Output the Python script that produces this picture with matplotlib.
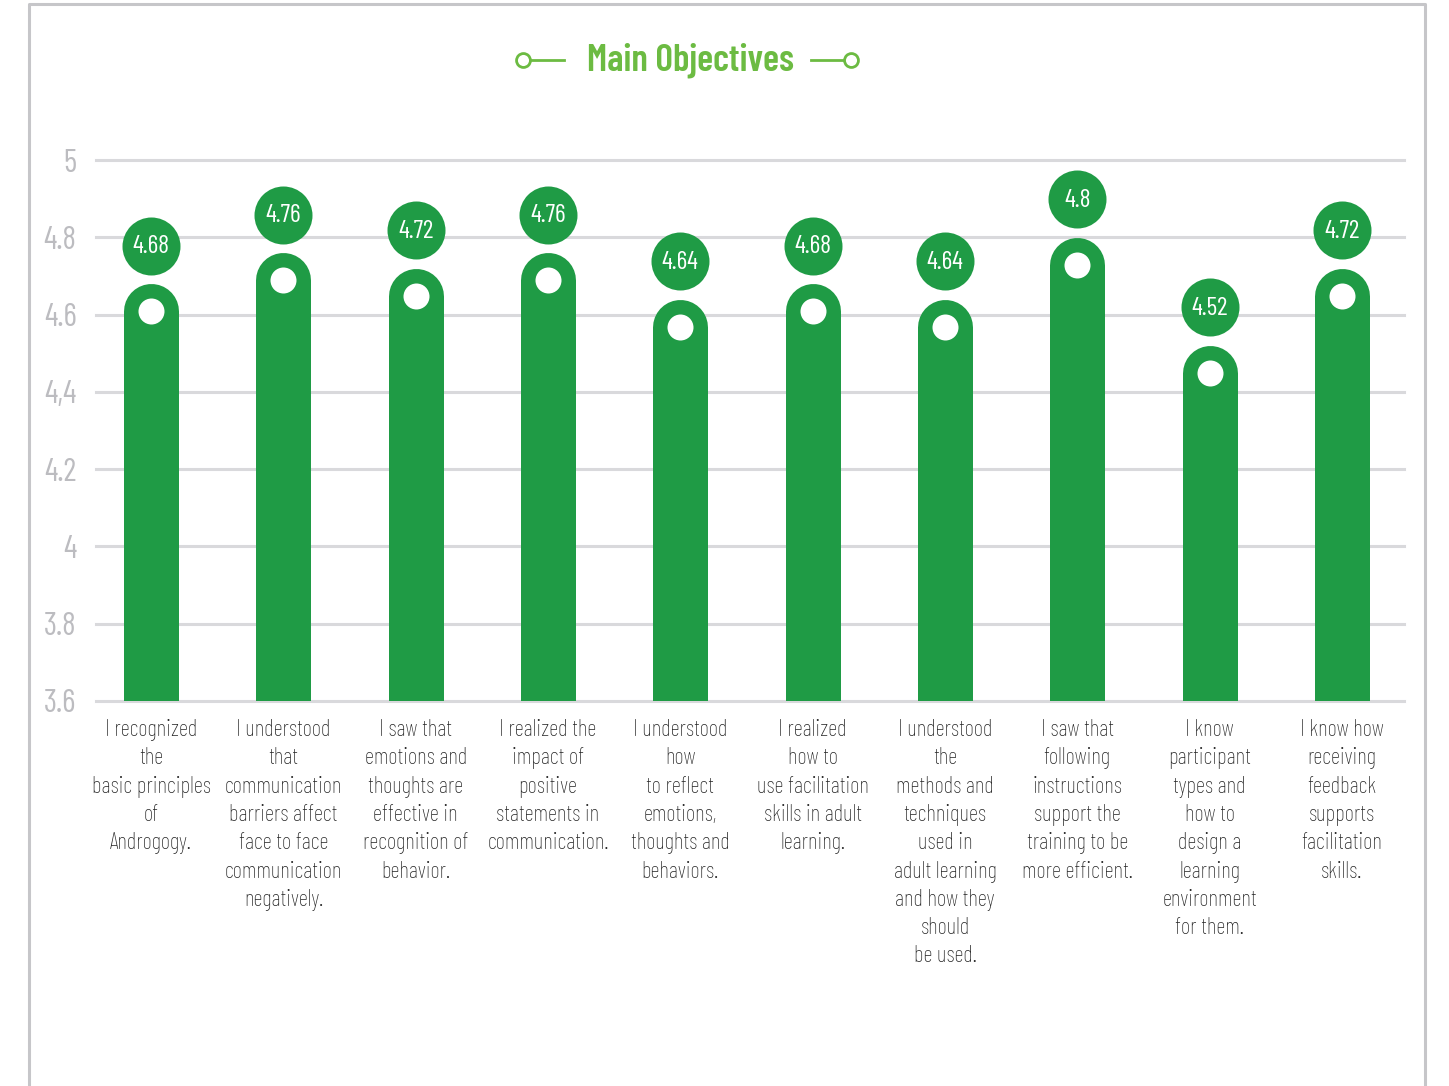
import matplotlib
matplotlib.use('Agg')
import matplotlib.pyplot as plt
import matplotlib.transforms as mtransforms
from matplotlib.lines import Line2D
from matplotlib import font_manager
import numpy as np

# survey items and mean scores
objectives = [
    'I recognized\nthe\nbasic principles\nof\nAndrogogy.',
    'I understood\nthat\ncommunication\nbarriers affect\nface to face\ncommunication\nnegatively.',
    'I saw that\nemotions and\nthoughts are\neffective in\nrecognition of\nbehavior.',
    'I realized the\nimpact of\npositive\nstatements in\ncommunication.',
    'I understood\nhow\nto reflect\nemotions,\nthoughts and\nbehaviors.',
    'I realized\nhow to\nuse facilitation\nskills in adult\nlearning.',
    'I understood\nthe\nmethods and\ntechniques\nused in\nadult learning\nand how they\nshould\nbe used.',
    'I saw that\nfollowing\ninstructions\nsupport the\ntraining to be\nmore efficient.',
    'I know\nparticipant\ntypes and\nhow to\ndesign a\nlearning\nenvironment\nfor them.',
    'I know how\nreceiving\nfeedback\nsupports\nfacilitation\nskills.',
]
scores = [4.68, 4.76, 4.72, 4.76, 4.64, 4.68, 4.64, 4.8, 4.52, 4.72]
yticks = [3.6, 3.8, 4.0, 4.2, 4.4, 4.6, 4.8, 5.0]
ytick_labels = ['3.6', '3.8', '4', '4.2', '4,4', '4.6', '4.8', '5']

GREEN = '#1f9b45'
TITLE_GREEN = '#6cbb42'
GRID = '#d9d9dc'

# pick the first narrow family that is installed
installed = {f.name for f in font_manager.fontManager.ttflist}
narrow = ['Barlow Condensed', 'Barlow Semi Condensed', 'Roboto Condensed',
          'IBM Plex Sans Condensed', 'Open Sans']
FONT = [f for f in narrow if f in installed][:1] + ['DejaVu Sans']

W, H, DPI = 1449, 1086, 100
fig = plt.figure(figsize=(W / DPI, H / DPI), dpi=DPI)

# outer frame
frame = Line2D([29 / W, 29 / W, 1425 / W, 1425 / W], [0, 1 - 4 / H, 1 - 4 / H, 0],
               transform=fig.transFigure, color='#c6c6c9', lw=2.2)
fig.add_artist(frame)

ax = fig.add_axes([96 / W, 1 - 701 / H, (1404 - 96) / W, (701 - 160) / H])
ax.set_xlim(-0.416, 9.47)
ax.set_ylim(3.6, 5.0)
for s in ax.spines.values():
    s.set_visible(False)

for t in yticks:
    ax.axhline(t, color=GRID, lw=2.2, zorder=1, clip_on=False)

x = np.arange(len(scores))

# bar width in pixels -> radius of the rounded top in data units
bar_px = 55
px_per_unit = (701 - 160) / 1.4
r = (bar_px / 2) / px_per_unit

for xi, v in zip(x, scores):
    ax.plot([xi, xi], [3.5, v - r], color=GREEN, lw=bar_px * 72 / DPI,
            solid_capstyle='round', zorder=2)
    # white dot inside the rounded cap
    ax.plot(xi, v - r, 'o', color='white', ms=26 * 72 / DPI, mec='none', zorder=3)
    # value badge above the bar
    off = mtransforms.offset_copy(ax.transData, fig=fig, x=0, y=38, units='dots')
    ax.plot(xi, v, 'o', color=GREEN, ms=58 * 72 / DPI, mec='none', transform=off,
            zorder=3, clip_on=False)
    ax.text(xi, v - 0.003, f'{v:g}', transform=off, ha='center', va='center',
            color='white', fontsize=18.5, family=FONT, zorder=4, clip_on=False)

ax.set_yticks(yticks)
ax.set_yticklabels(ytick_labels, family=FONT, fontsize=23, color='#bcbcc0')
ax.tick_params(axis='y', length=0, pad=14)
ax.set_xticks(x)
ax.set_xticklabels(objectives, family=FONT, fontsize=16.5, color='#222222',
                   linespacing=1.37, va='top', fontweight='light')
ax.tick_params(axis='x', length=0, pad=13)

# title with line-and-circle decorations
fig.text(690 / W, 1 - 60 / H, 'Main Objectives', ha='center', va='center',
         color=TITLE_GREEN, fontsize=27, fontweight='semibold', family=FONT)
for xs, cx in [((530, 564), 523), ((811, 845), 851)]:
    fig.add_artist(Line2D([xs[0] / W, xs[1] / W], [1 - 60 / H, 1 - 60 / H],
                          transform=fig.transFigure, color=TITLE_GREEN, lw=2))
    fig.add_artist(Line2D([cx / W], [1 - 60 / H], transform=fig.transFigure,
                          marker='o', ms=10, mfc='white', mec=TITLE_GREEN, mew=2))

fig.savefig('out.png', dpi=DPI)
